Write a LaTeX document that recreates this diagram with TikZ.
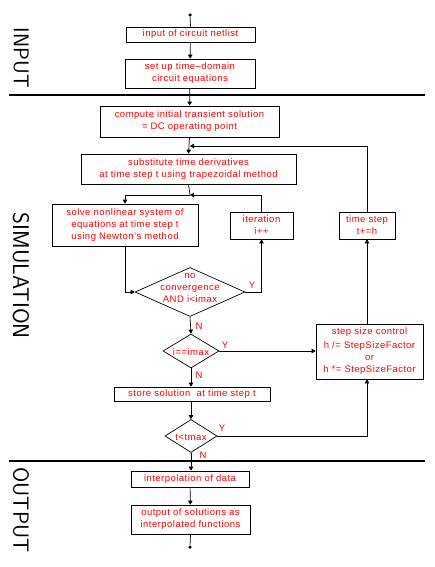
\documentclass[tikz,border=0pt]{standalone}
\usepackage{fontspec}
\setmainfont{Liberation Sans}[LetterSpace=5]
\usetikzlibrary{shapes.geometric,arrows.meta}
\begin{document}
\begin{tikzpicture}[x=1pt,y=-1pt,
  box/.style={draw, line width=0.7pt, text=red, align=center, inner sep=0pt, font=\fontsize{9.5}{12}\selectfont},
  dia/.style={draw, diamond, line width=0.7pt, inner sep=0pt},
  lab/.style={text=red, inner sep=0pt, align=center, font=\fontsize{9.5}{12}\selectfont},
  conn/.style={line width=0.7pt},
  arr/.style={conn, -{Triangle[length=4pt,width=4.5pt]}},
  dot/.style={circle, fill, inner sep=0pt, minimum size=3.5pt},
  sep/.style={line width=1.4pt},
  side/.style={rotate=-90, inner sep=0pt, font=\sffamily\fontsize{22}{22}\selectfont}]
\useasboundingbox (0,0) rectangle (434,567);
% separators
\draw[sep] (9,95) -- (425,95);
\draw[sep] (9,461) -- (425,461);
% side labels
\node[side] (sIn) at (21,58) {\resizebox{60pt}{!}{INPUT}};
\node[side] (sSim) at (21,276) {\resizebox{126pt}{!}{SIMULATION}};
\node[side] (sOut) at (21,510) {\resizebox{85pt}{!}{OUTPUT}};
% nodes
\node[dot] (start) at (190,15) {};
\node[box, minimum width=129pt, minimum height=15pt] (n1) at (190.5,34.5) {input of circuit netlist};
\node[box, minimum width=130pt, minimum height=29pt] (n2) at (190,73.5) {set up time--domain\\circuit equations};
\node[box, minimum width=179pt, minimum height=31pt] (n3) at (189.5,121.5) {compute initial transient solution\\= DC operating point};
\coordinate (j1) at (190,146);
\node[box, minimum width=215pt, minimum height=30pt] (n4) at (188.5,169) {substitute time derivatives\\at time step t using trapezoidal method};
\coordinate (j2) at (190,195);
\node[box, minimum width=146pt, minimum height=42pt] (n5) at (125,225) {solve nonlinear system of\\equations at time step t\\using Newton's method};
\node[box, minimum width=63pt, minimum height=27pt] (n6) at (261.5,225.5) {iteration\\i++};
\node[box, minimum width=56pt, minimum height=27pt] (n7) at (367,225.5) {time step\\t+=h};
\node[dia, minimum width=110pt, minimum height=49pt] (d1) at (190,292) {};
\node[lab] (d1t) at (190,288) {no\\convergence\\AND i<imax};
\node[dia, minimum width=56pt, minimum height=34pt] (d2) at (191,351) {};
\node[lab] (d2t) at (191,352) {i==imax};
\node[box, minimum width=107pt, minimum height=55pt] (n8) at (369.5,351.5) {step size control\\[2pt]h /= StepSizeFactor\\or\\h *= StepSizeFactor};
\node[box, minimum width=156pt, minimum height=14pt] (n9) at (192,394) {store solution\ \ at time step t};
\node[dia, minimum width=52pt, minimum height=33pt] (d3) at (191,436) {};
\node[lab] (d3t) at (191,437) {t<tmax};
\node[box, minimum width=118pt, minimum height=16pt] (n10) at (190,479) {interpolation of data};
\node[box, minimum width=119pt, minimum height=29pt] (n11) at (190.5,519.5) {output of solutions as\\interpolated functions};
\node[dot] (end) at (190,547) {};
% Y/N labels
\node[lab] (y1) at (252,285) {Y};
\node[lab] (nn1) at (199,326) {N};
\node[lab] (y2) at (225,345) {Y};
\node[lab] (nn2) at (199,375) {N};
\node[lab] (y3) at (222,428) {Y};
\node[lab] (nn3) at (203,455) {N};
% connectors
\draw[conn] (start) -- (n1.north);
\draw[arr] (n1) -- (n2);
\draw[arr] (n2) -- (n3);
\draw[arr] (n3.south) -- (n4.north);
\draw[arr] (n7.north) |- (j1);
\draw[conn] (n4.south) -- (j2);
\draw[arr] (j2) -| (n5.north);
\draw[arr] (n6.north) |- (j2);
\draw[arr] (n5.south) |- (d1.west);
\draw[arr] (d1.east) -| (n6.south);
\draw[arr] (d1.south) -- (d2.north);
\draw[arr] (d2.east) -- (d2.east -| n8.west);
\draw[arr] (d2.south) -- (d2.south |- n9.north);
\draw[arr] (n9.south -| d3.north) -- (d3.north);
\draw[arr] (d3.east) -| (n7.center |- n8.south);
\draw[arr] (n7.center |- n8.north) -- (n7.south);
\draw[arr] (d3.south) -- (d3.south |- n10.north);
\draw[arr] (n10) -- (n11);
\draw[conn] (n11.south) -- (end);
\end{tikzpicture}
\end{document}
